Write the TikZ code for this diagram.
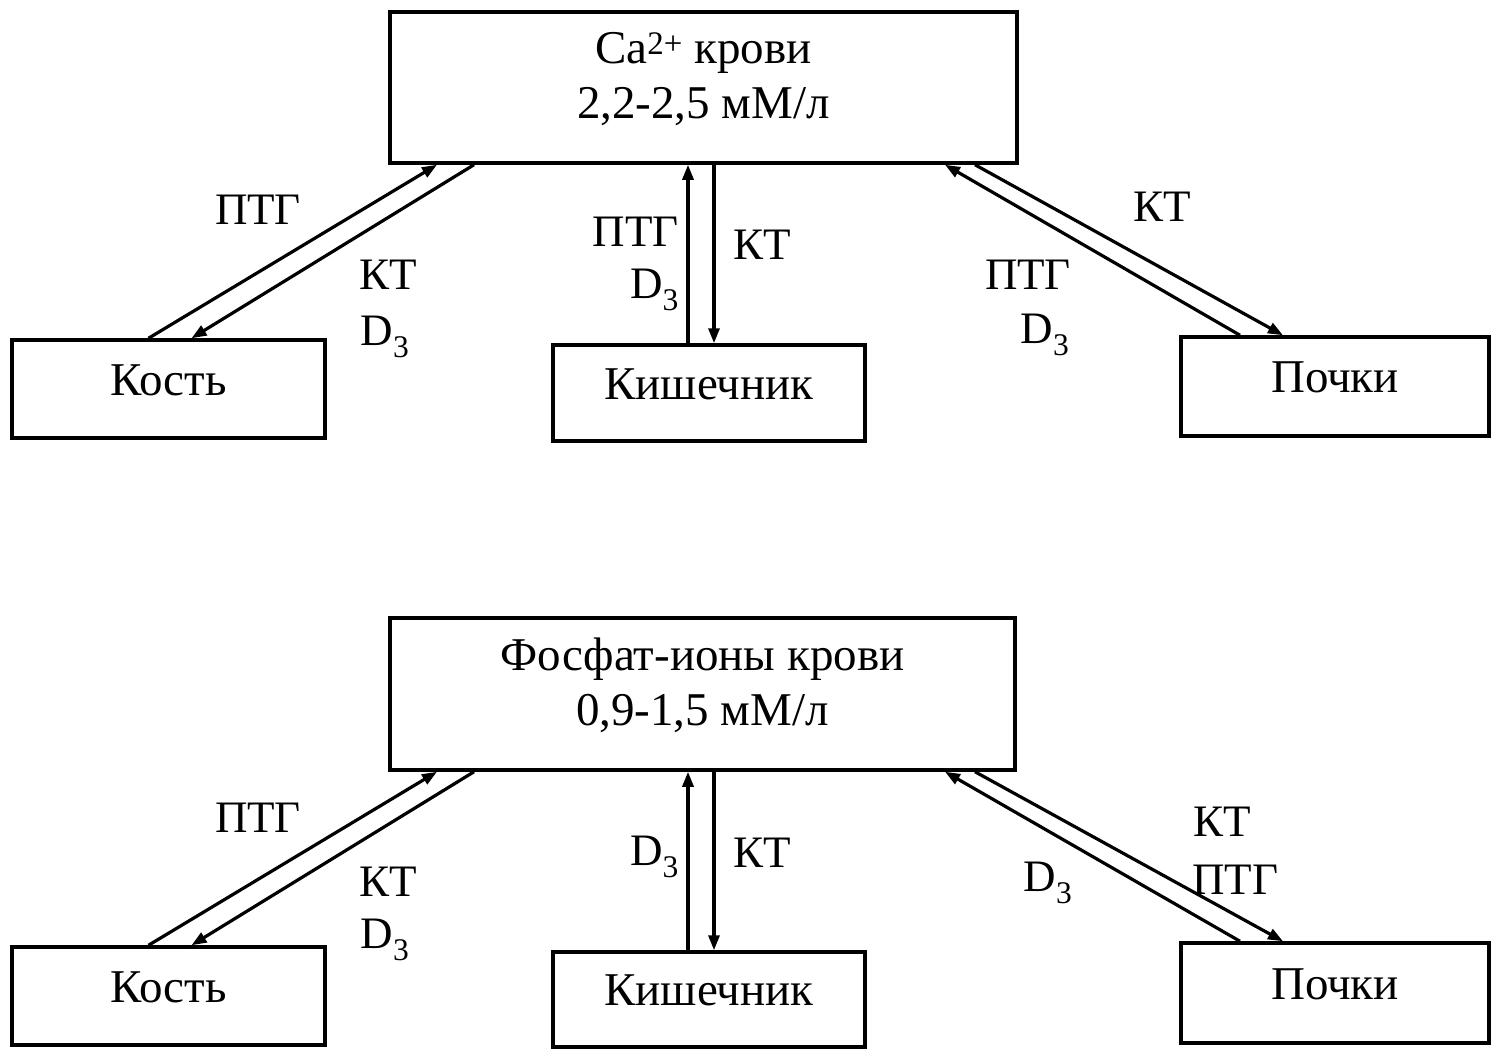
\documentclass[tikz,border=0pt]{standalone}
\usepackage{fontspec}
\setmainfont{Liberation Serif}
\usetikzlibrary{arrows.meta}
\begin{document}
\begin{tikzpicture}[x=1pt,y=-1pt,
  box/.style={draw,line width=3.5pt,inner sep=0pt,align=center,font=\fontsize{47}{55}\selectfont},
  sbox/.style={box,text depth=18pt},
  bbox/.style={box,text depth=24pt},
  lbl/.style={inner sep=0pt,font=\fontsize{45}{52}\selectfont},
  conn/.style={line width=3.2pt,-{Triangle[length=15pt,width=11pt]}}]
\useasboundingbox (0,0) rectangle (1491,1049);
% ---------- top part ----------
\node[bbox,minimum width=627pt,minimum height=151pt] (ca) at (703.5,87.5) {Ca\textsuperscript{2+} крови\\2,2-2,5 мМ/л};
\node[sbox,minimum width=313pt,minimum height=98pt] (kost1) at (168.5,389) {Кость};
\node[sbox,minimum width=312pt,minimum height=96pt] (kish1) at (709,393) {Кишечник};
\node[sbox,minimum width=308pt,minimum height=99pt] (poch1) at (1335,386.5) {Почки};
\draw[conn] ([xshift=-20pt]kost1.north) -- ([xshift=-266.5pt]ca.south);
\draw[conn] ([xshift=-229.5pt]ca.south) -- ([xshift=23pt]kost1.north);
\draw[conn] ([xshift=-21pt]kish1.north) -- ([xshift=-15.5pt]ca.south);
\draw[conn] ([xshift=10.5pt]ca.south) -- ([xshift=5pt]kish1.north);
\draw[conn] ([xshift=-95pt]poch1.north) -- ([xshift=241.5pt]ca.south);
\draw[conn] ([xshift=271.5pt]ca.south) -- ([xshift=-52pt]poch1.north);
\node[lbl] (t1) at (258,210) {ПТГ};
\node[lbl] (t2) at (388,275) {КТ};
\node[lbl] (t3) at (385,337) {D\textsubscript{3}};
\node[lbl,anchor=east] (t4) at (679,232) {ПТГ};
\node[lbl,anchor=east] (t5) at (679,290) {D\textsubscript{3}};
\node[lbl] (t6) at (762,245) {КТ};
\node[lbl] (t7) at (1162,207) {КТ};
\node[lbl] (t8) at (1028,275) {ПТГ};
\node[lbl] (t9) at (1045,335) {D\textsubscript{3}};
% ---------- bottom part ----------
\node[bbox,minimum width=625pt,minimum height=152pt] (ph) at (702.5,694) {Фосфат-ионы крови\\0,9-1,5 мМ/л};
\node[sbox,minimum width=313pt,minimum height=98pt] (kost2) at (168.5,996) {Кость};
\node[sbox,minimum width=312pt,minimum height=95pt] (kish2) at (709,999.5) {Кишечник};
\node[sbox,minimum width=308pt,minimum height=100pt] (poch2) at (1335,993) {Почки};
\draw[conn] ([xshift=-20pt]kost2.north) -- ([xshift=-265.5pt]ph.south);
\draw[conn] ([xshift=-228.5pt]ph.south) -- ([xshift=23pt]kost2.north);
\draw[conn] ([xshift=-21pt]kish2.north) -- ([xshift=-14.5pt]ph.south);
\draw[conn] ([xshift=11.5pt]ph.south) -- ([xshift=5pt]kish2.north);
\draw[conn] ([xshift=-95pt]poch2.north) -- ([xshift=242.5pt]ph.south);
\draw[conn] ([xshift=272.5pt]ph.south) -- ([xshift=-52pt]poch2.north);
\node[lbl] (b1) at (258,818) {ПТГ};
\node[lbl] (b2) at (388,882) {КТ};
\node[lbl] (b3) at (385,940) {D\textsubscript{3}};
\node[lbl,anchor=east] (b4) at (679,857) {D\textsubscript{3}};
\node[lbl] (b5) at (762,853) {КТ};
\node[lbl] (b6) at (1222,822) {КТ};
\node[lbl] (b7) at (1235,880) {ПТГ};
\node[lbl] (b8) at (1048,883) {D\textsubscript{3}};
\end{tikzpicture}
\end{document}
